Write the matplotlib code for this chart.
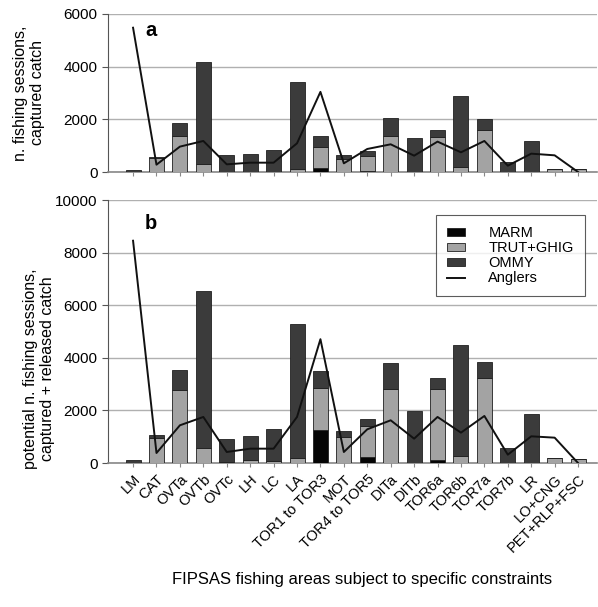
import numpy as np
import matplotlib.pyplot as plt
from matplotlib.patches import Patch
from matplotlib.lines import Line2D

plt.rcParams['font.family'] = ['Liberation Sans', 'DejaVu Sans']

areas = ['LM', 'CAT', 'OVTa', 'OVTb', 'OVTc', 'LH', 'LC', 'LA', 'TOR1 to TOR3', 'MOT',
         'TOR4 to TOR5', 'DITa', 'DITb', 'TOR6a', 'TOR6b', 'TOR7a', 'TOR7b', 'LR',
         'LO+CNG', 'PET+RLP+FSC']

# (a) captured catch
marm_a = [0, 0, 0, 0, 0, 0, 0, 0, 165, 0, 30, 0, 0, 0, 0, 0, 0, 0, 0, 0]
trut_a = [0, 520, 1370, 290, 0, 0, 0, 100, 773, 500, 580, 1370, 0, 1344, 178, 1598, 0, 0, 100, 100]
ommy_a = [60, 60, 494, 3870, 634, 672, 824, 3311, 432, 150, 190, 670, 1293, 254, 2726, 405, 380, 1192, 0, 0]
anglers_a = [5478, 279, 964, 1179, 292, 355, 355, 1090, 3043, 330, 875, 1052, 621, 1154, 748, 1179, 241, 697, 634, 0]

# (b) captured + released catch
marm_b = [0, 0, 0, 0, 0, 0, 0, 0, 1244, 0, 228, 0, 0, 127, 0, 0, 0, 0, 0, 0]
trut_b = [0, 950, 2766, 571, 20, 100, 76, 190, 1611, 990, 1193, 2804, 0, 2690, 266, 3249, 0, 0, 203, 165]
ommy_b = [102, 130, 762, 5977, 906, 928, 1206, 5089, 635, 230, 267, 1016, 1980, 406, 4239, 609, 571, 1853, 0, 0]
anglers_b = [8452, 381, 1434, 1751, 419, 546, 546, 1751, 4708, 419, 1282, 1624, 926, 1751, 1155, 1789, 317, 1015, 964, 0]

c_marm, c_trut, c_ommy = '#050505', '#a3a3a3', '#3b3b3b'
x = np.arange(len(areas))

fig = plt.figure(figsize=(5.98, 6.07), dpi=100)
ax_a = fig.add_axes([0.1806, 0.7166, 0.8174, 0.2604])
ax_b = fig.add_axes([0.1806, 0.2372, 0.8174, 0.4333])


def panel(ax, marm, trut, ommy, ang, ymax, step):
    marm = np.array(marm); trut = np.array(trut); ommy = np.array(ommy)
    kw = dict(width=0.64, edgecolor='#202020', linewidth=0.6, zorder=3)
    ax.bar(x, marm, color=c_marm, **kw)
    ax.bar(x, trut, bottom=marm, color=c_trut, **kw)
    ax.bar(x, ommy, bottom=marm + trut, color=c_ommy, **kw)
    ax.plot(x, ang, color='#111111', lw=1.4, zorder=4)
    ax.set_xlim(-1.07, 19.8)
    ax.set_ylim(0, ymax)
    ax.set_yticks(np.arange(0, ymax + 1, step))
    ax.yaxis.grid(True, color='#b0b0b0', lw=1.0, zorder=0)
    ax.set_axisbelow(True)
    for s in ['top', 'right']:
        ax.spines[s].set_visible(False)
    ax.spines['left'].set_color('#555555')
    ax.spines['bottom'].set_color('#888888')
    ax.spines['bottom'].set_linewidth(1.2)
    ax.set_xticks(x)
    ax.tick_params(axis='y', labelsize=11, length=4, color='#555555')
    ax.tick_params(axis='x', length=3, color='#888888')


panel(ax_a, marm_a, trut_a, ommy_a, anglers_a, 6000, 2000)
panel(ax_b, marm_b, trut_b, ommy_b, anglers_b, 10000, 2000)

ax_a.set_xticklabels([])
ax_b.set_xticklabels(areas, rotation=45, ha='right', rotation_mode='anchor', fontsize=10.5)

ax_a.set_ylabel('n. fishing sessions,\ncaptured catch', fontsize=11.5)
ax_a.yaxis.set_label_coords(-0.129, 0.5)
ax_b.set_ylabel('potential n. fishing sessions,\ncaptured + released catch', fontsize=11.5)
ax_b.yaxis.set_label_coords(-0.108, 0.36)
ax_a.text(0.77, 5390, 'a', fontsize=14.5, fontweight='bold', ha='center', va='center')
ax_b.text(0.77, 9120, 'b', fontsize=14.5, fontweight='bold', ha='center', va='center')

handles = [Patch(facecolor=c_marm, edgecolor='#202020', lw=0.6),
           Patch(facecolor=c_trut, edgecolor='#202020', lw=0.6),
           Patch(facecolor=c_ommy, edgecolor='#202020', lw=0.6),
           Line2D([], [], color='#111111', lw=1.4)]
leg = ax_b.legend(handles, ['MARM', 'TRUT+GHIG', 'OMMY', 'Anglers'], loc='upper right',
                  bbox_to_anchor=(0.975, 0.943), fontsize=10.5, frameon=True, fancybox=False,
                  edgecolor='#333333', handlelength=1.25, handleheight=0.45, handletextpad=1.6,
                  labelspacing=0.08, borderpad=0.75, borderaxespad=0)
leg.get_frame().set_linewidth(0.8)

fig.text(0.605, 0.045, 'FIPSAS fishing areas subject to specific constraints', fontsize=12,
         ha='center', va='center')

fig.savefig('out.png', dpi=100)
